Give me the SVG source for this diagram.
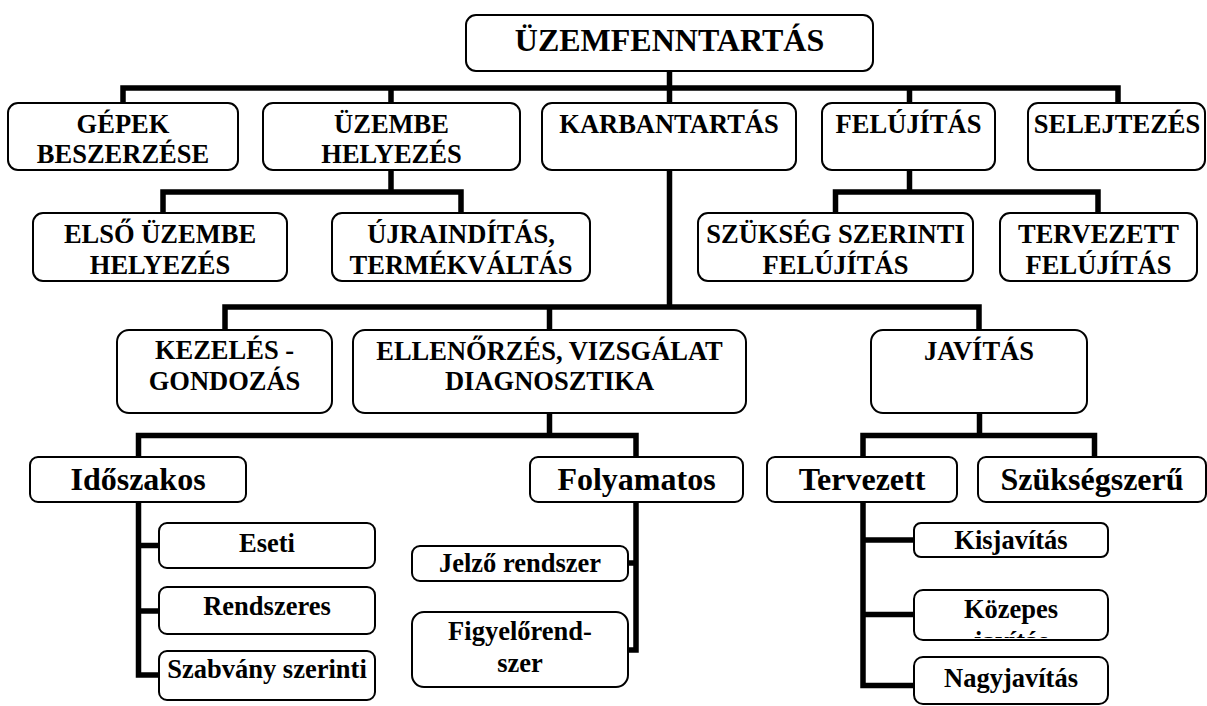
<svg xmlns="http://www.w3.org/2000/svg" width="1207" height="706" viewBox="0 0 1207 706">
<defs>
<style>
.box{fill:#fff;stroke:#000;stroke-width:2}
.c{fill:none;stroke:#000;stroke-width:5.5;stroke-linejoin:miter;stroke-linecap:butt}
.t1{font-size:32px}
.t2{font-size:26.5px}
.t4{font-size:32px}
.t5{font-size:26.5px}
</style>
<clipPath id="clipKoz"><rect x="914" y="590" width="194" height="48"/></clipPath>
</defs>
<rect width="1207" height="706" fill="#fff"/>
<g id="connectors">
<path class="c" d="M669.5,71 V88"/>
<path class="c" d="M123,103 V88 H1118 V103"/>
<path class="c" d="M391,88 V103 M669.5,88 V103 M909.5,88 V103"/>
<path class="c" d="M391,170 V192"/>
<path class="c" d="M163,213 V192 H461 V213"/>
<path class="c" d="M909.5,170 V192"/>
<path class="c" d="M835.5,213 V192 H1098 V213"/>
<path class="c" d="M669.5,170 V307"/>
<path class="c" d="M225,330 V307 H979 V330"/>
<path class="c" d="M549.5,307 V330"/>
<path class="c" d="M549.5,413 V435.5"/>
<path class="c" d="M138.5,457 V435.5 H636 V457"/>
<path class="c" d="M979.5,413 V435.5"/>
<path class="c" d="M863,457 V435.5 H1094.5 V457"/>
<path class="c" d="M138.5,502 V675 H159 M138.5,545.5 H159 M138.5,611 H159"/>
<path class="c" d="M636,502 V650 H628 M636,563 H628"/>
<path class="c" d="M863,502 V685.5 H914 M863,540 H914 M863,614.5 H914"/>
</g>
<g font-family="'Liberation Serif', 'Times New Roman', serif" font-weight="bold" text-anchor="middle" fill="#000">
<g id="n-root"><rect class="box" x="466" y="15" width="407" height="56" rx="10"/><text class="t1" x="669.5" y="51">ÜZEMFENNTARTÁS</text></g>
<g id="n-gepek"><rect class="box" x="8" y="103" width="230" height="67" rx="10"/><text class="t2" x="123" y="133">GÉPEK</text><text class="t2" x="123" y="163">BESZERZÉSE</text></g>
<g id="n-uzembe"><rect class="box" x="263" y="103" width="257" height="67" rx="10"/><text class="t2" x="391.5" y="133">ÜZEMBE</text><text class="t2" x="391.5" y="163">HELYEZÉS</text></g>
<g id="n-karb"><rect class="box" x="542" y="103" width="254" height="67" rx="10"/><text class="t2" x="669" y="133">KARBANTARTÁS</text></g>
<g id="n-feluj"><rect class="box" x="822" y="103" width="173" height="67" rx="10"/><text class="t2" x="908.5" y="133">FELÚJÍTÁS</text></g>
<g id="n-selejt"><rect class="box" x="1028" y="103" width="177" height="67" rx="10"/><text class="t2" x="1117" y="133">SELEJTEZÉS</text></g>
<g id="n-elso"><rect class="box" x="33" y="213" width="254" height="68" rx="10"/><text class="t2" x="160" y="243">ELSŐ ÜZEMBE</text><text class="t2" x="160" y="274">HELYEZÉS</text></g>
<g id="n-ujra"><rect class="box" x="332" y="213" width="258" height="68" rx="10"/><text class="t2" x="461" y="243">ÚJRAINDÍTÁS,</text><text class="t2" x="461" y="274">TERMÉKVÁLTÁS</text></g>
<g id="n-szukseg"><rect class="box" x="698" y="213" width="275" height="68" rx="10"/><text class="t2" x="835.5" y="243">SZÜKSÉG SZERINTI</text><text class="t2" x="835.5" y="274">FELÚJÍTÁS</text></g>
<g id="n-terv"><rect class="box" x="1000" y="213" width="197" height="68" rx="10"/><text class="t2" x="1098.5" y="243">TERVEZETT</text><text class="t2" x="1098.5" y="274">FELÚJÍTÁS</text></g>
<g id="n-kezeles"><rect class="box" x="117" y="330" width="215" height="83" rx="12"/><text class="t2" x="224.5" y="359">KEZELÉS -</text><text class="t2" x="224.5" y="390">GONDOZÁS</text></g>
<g id="n-ellen"><rect class="box" x="353" y="330" width="393" height="83" rx="12"/><text class="t2" x="549.5" y="360">ELLENŐRZÉS, VIZSGÁLAT</text><text class="t2" x="549.5" y="390">DIAGNOSZTIKA</text></g>
<g id="n-javitas"><rect class="box" x="871" y="330" width="216" height="83" rx="12"/><text class="t2" x="979" y="360">JAVÍTÁS</text></g>
<g id="n-idoszakos"><rect class="box" x="30" y="457" width="216" height="45" rx="8"/><text class="t4" x="138" y="490">Időszakos</text></g>
<g id="n-folyamatos"><rect class="box" x="530" y="457" width="213" height="45" rx="8"/><text class="t4" x="636.5" y="490">Folyamatos</text></g>
<g id="n-tervezett"><rect class="box" x="767" y="457" width="190" height="45" rx="8"/><text class="t4" x="862" y="490">Tervezett</text></g>
<g id="n-szuksegszeru"><rect class="box" x="978" y="457" width="228" height="45" rx="8"/><text class="t4" x="1092" y="490">Szükségszerű</text></g>
<g id="n-eseti"><rect class="box" x="159" y="523" width="216" height="45" rx="8"/><text class="t5" x="267" y="552">Eseti</text></g>
<g id="n-rendszeres"><rect class="box" x="159" y="587" width="216" height="47" rx="8"/><text class="t5" x="267" y="615">Rendszeres</text></g>
<g id="n-szabvany"><rect class="box" x="159" y="651" width="216" height="49" rx="8"/><text class="t5" x="267" y="678">Szabvány szerinti</text></g>
<g id="n-jelzo"><rect class="box" x="412" y="546" width="216" height="35" rx="8"/><text class="t5" x="520" y="572">Jelző rendszer</text></g>
<g id="n-figyelo"><rect class="box" x="412" y="612" width="216" height="75" rx="12"/><text class="t5" x="520" y="640">Figyelőrend-</text><text class="t5" x="520" y="672">szer</text></g>
<g id="n-kisjav"><rect class="box" x="914" y="523" width="194" height="34" rx="7"/><text class="t5" x="1011" y="549">Kisjavítás</text></g>
<g id="n-kozepes"><rect class="box" x="914" y="590" width="194" height="50" rx="9"/><text class="t5" x="1011" y="618">Közepes</text><text class="t5" x="1011" y="650" clip-path="url(#clipKoz)">javítás</text></g>
<g id="n-nagyjav"><rect class="box" x="914" y="657" width="194" height="47" rx="9"/><text class="t5" x="1011" y="687">Nagyjavítás</text></g>
</g>
</svg>
